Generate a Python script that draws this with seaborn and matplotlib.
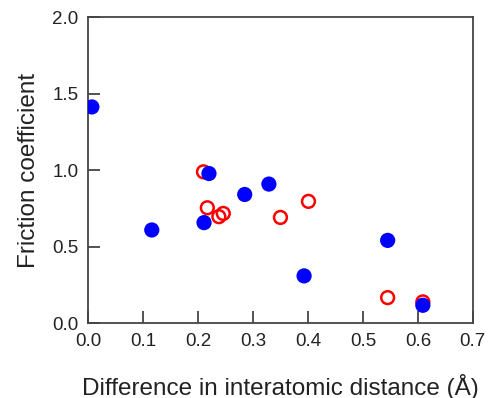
import pandas as pd
import seaborn as sns
import matplotlib.pyplot as plt

# filled (blue) series
blue_x = [0.007, 0.116, 0.211, 0.220, 0.285, 0.329, 0.393, 0.545, 0.609]
blue_y = [1.413, 0.609, 0.657, 0.978, 0.841, 0.909, 0.309, 0.541, 0.117]

# open (red) series
red_x = [0.210, 0.217, 0.238, 0.246, 0.350, 0.401, 0.545, 0.609]
red_y = [0.989, 0.754, 0.696, 0.717, 0.691, 0.796, 0.167, 0.139]

x_ticks = [0.0, 0.1, 0.2, 0.3, 0.4, 0.5, 0.6, 0.7]
y_ticks = [0.0, 0.5, 1.0, 1.5, 2.0]

sns.set_style('white')
plt.rcParams['font.family'] = ['Liberation Sans', 'DejaVu Sans']

df_blue = pd.DataFrame({'x': blue_x, 'y': blue_y})
df_red = pd.DataFrame({'x': red_x, 'y': red_y})

fig = plt.figure(figsize=(4.89, 3.98), dpi=100)
ax = fig.add_axes([0.18, 0.188, 0.787, 0.769])

sns.scatterplot(data=df_red, x='x', y='y', ax=ax, marker='o', s=85,
                facecolors='none', edgecolor='#ff0000', linewidth=1.8, zorder=2)
sns.scatterplot(data=df_blue, x='x', y='y', ax=ax, marker='o', s=120,
                color='#0000ff', edgecolor='none', linewidth=0, zorder=3)

ax.set_xlim(0, 0.7)
ax.set_ylim(0, 2.0)
ax.set_xticks(x_ticks)
ax.set_yticks(y_ticks)
ax.set_xticklabels([f'{t:.1f}' for t in x_ticks])
ax.set_yticklabels([f'{t:.1f}' for t in y_ticks])

for sp in ax.spines.values():
    sp.set_visible(True)
    sp.set_color('#444444')
    sp.set_linewidth(1.3)

ax.tick_params(axis='both', direction='in', length=8.5, width=1.3,
               color='#444444', labelsize=13.5, labelcolor='#222222', pad=7,
               bottom=True, left=True, top=False, right=False)

ax.set_xlabel('Difference in interatomic distance (Å)', fontsize=17.5,
              color='#222222', labelpad=17)
ax.set_ylabel('Friction coefficient', fontsize=17.5, color='#222222',
              labelpad=9)

fig.savefig('out.png', dpi=100)
